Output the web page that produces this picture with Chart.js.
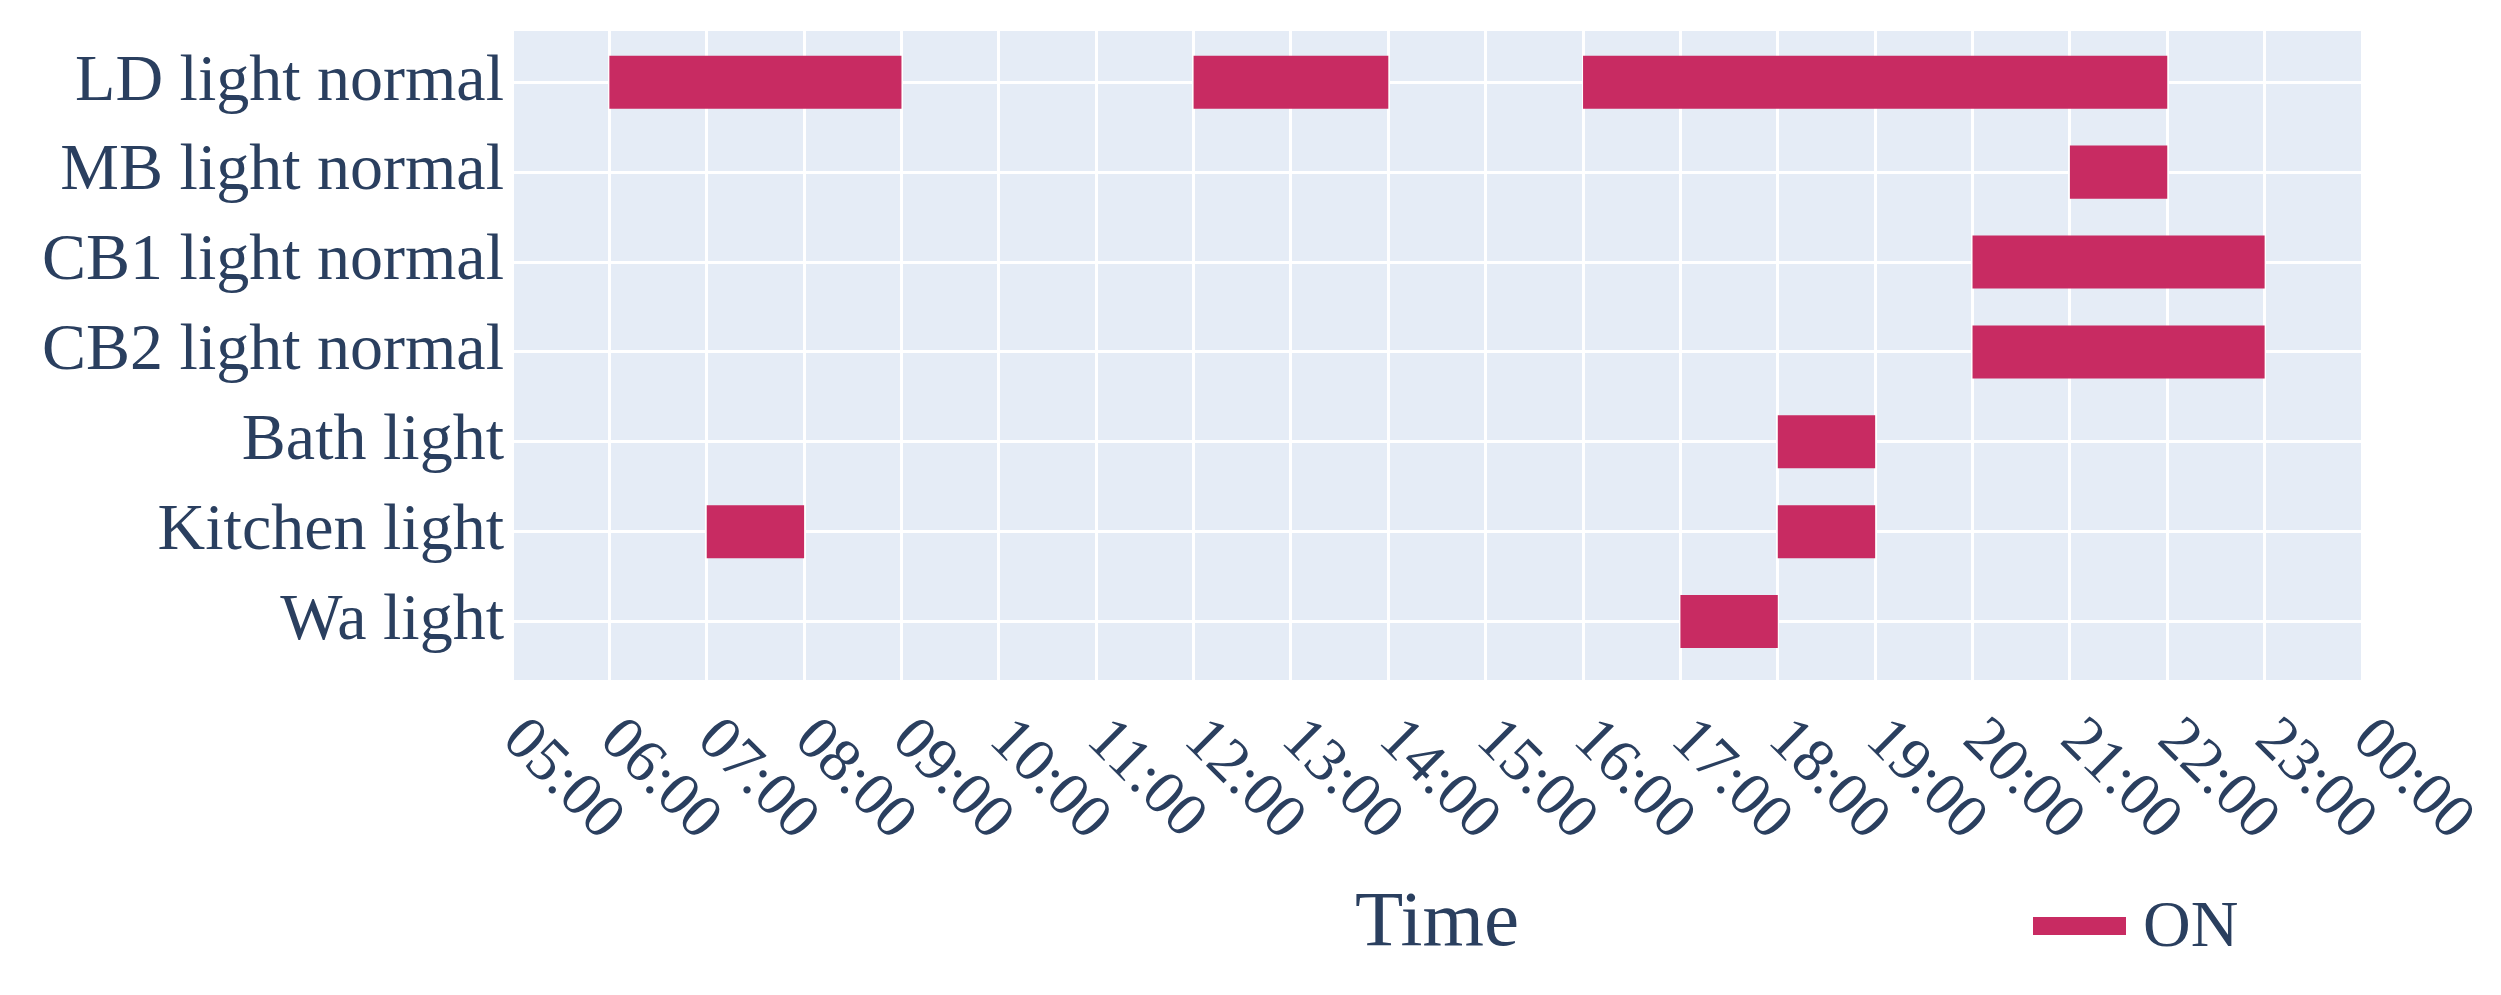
<!DOCTYPE html>
<html>
<head>
<meta charset="utf-8">
<title>Light timeline</title>
<script src="https://cdn.jsdelivr.net/npm/chart.js@4/dist/chart.umd.min.js"></script>
<style>
  html, body { margin: 0; padding: 0; background: #ffffff; }
  #wrap { width: 2501px; height: 995px; }
</style>
</head>
<body>
<div id="wrap"><canvas id="timeline-chart"></canvas></div>
<script>
// Dispositivi (asse y, dall'alto in basso)
const devices = ['LD light normal', 'MB light normal', 'CB1 light normal', 'CB2 light normal', 'Bath light', 'Kitchen light', 'Wa light'];

// Intervalli ON: dispositivo, ora di inizio, ora di fine
const onDevice = ['LD light normal', 'LD light normal', 'LD light normal', 'MB light normal', 'CB1 light normal', 'CB2 light normal', 'Bath light', 'Kitchen light', 'Kitchen light', 'Wa light'];
const onStart = [6, 12, 16, 21, 20, 20, 18, 7, 18, 17];
const onEnd = [9, 14, 22, 22, 23, 23, 19, 8, 19, 18];

// Etichette dell'asse del tempo
const firstHour = 5;
const timeLabels = ['05:00', '06:00', '07:00', '08:00', '09:00', '10:00', '11:00', '12:00', '13:00', '14:00',
  '15:00', '16:00', '17:00', '18:00', '19:00', '20:00', '21:00', '22:00', '23:00', '00:00'];

const textColor = '#2a3f5f';
const fontFamily = '"Liberation Serif", "DejaVu Serif", serif';

// Scala lineare con etichette inclinate verso il basso a destra (come plotly tickangle=45)
class DiagonalLinearScale extends Chart.LinearScale {
    _getXAxisLabelAlignment() {
        return 'left';
    }
}
DiagonalLinearScale.id = 'diagonalLinear';
DiagonalLinearScale.defaults = Chart.LinearScale.defaults;
Chart.register(DiagonalLinearScale);

// Sfondo dell'area del grafico
const plotBackground = {
    id: 'plotBackground',
    beforeDraw(chart) {
        const {ctx, chartArea} = chart;
        ctx.save();
        ctx.fillStyle = '#E5ECF6';
        ctx.fillRect(chartArea.left, chartArea.top, chartArea.right - chartArea.left, chartArea.bottom - chartArea.top);
        ctx.restore();
    }
};

// Legenda in basso a destra, alla stessa altezza del titolo dell'asse x
const bottomLegend = {
    id: 'bottomLegend',
    afterDraw(chart) {
        const {ctx, chartArea} = chart;
        const items = Chart.defaults.plugins.legend.labels.generateLabels(chart);
        let x = chartArea.right - 329;
        const y = chart.height - 69;
        ctx.save();
        ctx.font = '66px ' + fontFamily;
        ctx.textBaseline = 'middle';
        ctx.textAlign = 'left';
        items.forEach(item => {
            ctx.fillStyle = item.fillStyle;
            ctx.fillRect(x, y - 9, 93, 18);
            ctx.fillStyle = textColor;
            ctx.fillText(item.text, x + 110, y + 3);
            x += 110 + ctx.measureText(item.text).width + 60;
        });
        ctx.restore();
    }
};

const barData = onDevice.map((name, i) => ({
    x: [onStart[i], onEnd[i]],
    y: devices.indexOf(name)
}));

const ctx = document.getElementById('timeline-chart').getContext('2d');
new Chart(ctx, {
    type: 'bar',
    data: {
        datasets: [{
            label: 'ON',
            data: barData,
            backgroundColor: '#C82B62',
            borderWidth: 0,
            borderSkipped: false,
            categoryPercentage: 1,
            barPercentage: 0.59
        }]
    },
    options: {
        indexAxis: 'y',
        responsive: true,
        maintainAspectRatio: false,
        animation: false,
        layout: {
            padding: { top: 31, right: 139, bottom: 0, left: 0 }
        },
        scales: {
            x: {
                type: 'diagonalLinear',
                min: firstHour,
                max: firstHour + timeLabels.length - 1,
                afterFit: (scale) => { scale.height = 315; },
                grid: { color: '#ffffff', lineWidth: 3, drawTicks: false },
                border: { display: false },
                ticks: {
                    stepSize: 1,
                    autoSkip: false,
                    minRotation: -45,
                    maxRotation: -45,
                    padding: 24,
                    color: textColor,
                    font: { family: fontFamily, size: 62 },
                    callback: (value) => timeLabels[value - firstHour]
                },
                title: {
                    display: true,
                    text: 'Time',
                    color: textColor,
                    font: { family: fontFamily, size: 79 },
                    padding: { top: 0, bottom: 23 }
                }
            },
            y: {
                type: 'linear',
                reverse: true,
                offset: false,
                min: -0.57,
                max: 6.65,
                afterFit: (scale) => {
                    scale.width = 512;
                    scale.paddingTop = 0;
                    scale.paddingBottom = 0;
                },
                grid: { color: '#ffffff', lineWidth: 3, drawTicks: false, offset: false },
                border: { display: false },
                ticks: {
                    stepSize: 1,
                    includeBounds: false,
                    autoSkip: false,
                    padding: 8,
                    color: textColor,
                    font: { family: fontFamily, size: 66 },
                    callback: (value) => devices[value]
                }
            }
        },
        plugins: {
            legend: { display: false },
            tooltip: { enabled: false }
        }
    },
    plugins: [plotBackground, bottomLegend]
});
</script>
</body>
</html>
